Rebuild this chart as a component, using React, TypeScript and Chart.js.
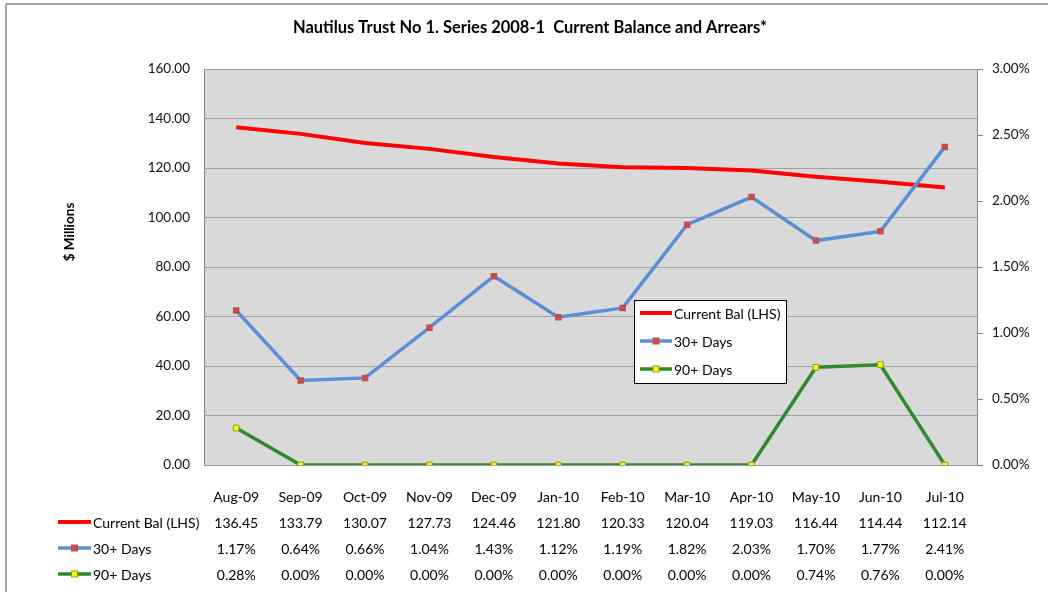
import React, { useEffect, useRef } from "react";
import { Chart, registerables } from "chart.js";

Chart.register(...registerables);

const categories = ["Aug-09", "Sep-09", "Oct-09", "Nov-09", "Dec-09", "Jan-10", "Feb-10", "Mar-10", "Apr-10", "May-10", "Jun-10", "Jul-10"];
const currentBal = [136.45, 133.79, 130.07, 127.73, 124.46, 121.8, 120.33, 120.04, 119.03, 116.44, 114.44, 112.14];
const days30 = [1.17, 0.64, 0.66, 1.04, 1.43, 1.12, 1.19, 1.82, 2.03, 1.7, 1.77, 2.41];
const days90 = [0.28, 0.0, 0.0, 0.0, 0.0, 0.0, 0.0, 0.0, 0.0, 0.74, 0.76, 0.0];
const seriesNames = ["Current Bal (LHS)", "30+ Days", "90+ Days"];
const title = "Nautilus Trust No 1. Series 2008-1  Current Balance and Arrears*";
const yTitle = "$ Millions";

const FONT = "Lato, 'Open Sans', sans-serif";
const RED = "#ff0000";
const BLUE = "#5a8fd6";
const GREEN = "#2f8a2f";
const MARK30 = "#c0504d";
const MARK90 = "#ffff00";
const MARK90B = "#8c9a1a";

function drawSample(ctx: CanvasRenderingContext2D, x0: number, x1: number, y: number, idx: number) {
  const colors = [RED, BLUE, GREEN];
  ctx.save();
  ctx.strokeStyle = colors[idx];
  ctx.lineWidth = idx === 0 ? 4 : 3.5;
  ctx.lineCap = "butt";
  ctx.beginPath();
  ctx.moveTo(x0, y);
  ctx.lineTo(x1, y);
  ctx.stroke();
  const cx = (x0 + x1) / 2;
  if (idx === 1) {
    ctx.fillStyle = MARK30;
    ctx.fillRect(cx - 3.5, y - 3.5, 7, 7);
  } else if (idx === 2) {
    ctx.fillStyle = MARK90;
    ctx.strokeStyle = MARK90B;
    ctx.lineWidth = 1;
    ctx.fillRect(cx - 3, y - 3, 6, 6);
    ctx.strokeRect(cx - 3, y - 3, 6, 6);
  }
  ctx.restore();
}

const decorPlugin = {
  id: "decor",
  beforeDraw(chart: any) {
    const { ctx, chartArea } = chart;
    ctx.save();
    ctx.fillStyle = "#ffffff";
    ctx.fillRect(0, 0, chart.width, chart.height);
    ctx.strokeStyle = "#a6a6a6";
    ctx.lineWidth = 2;
    ctx.strokeRect(6, 4, chart.width + 20, chart.height + 20);
    ctx.fillStyle = "#d9d9d9";
    ctx.fillRect(chartArea.left, chartArea.top, chartArea.right - chartArea.left, chartArea.bottom - chartArea.top);
    ctx.restore();
  },
  afterDraw(chart: any) {
    const { ctx } = chart;
    const xs = chart.scales.x;
    ctx.save();
    // title
    ctx.fillStyle = "#000";
    ctx.font = `bold 16.5px ${FONT}`;
    ctx.textAlign = "center";
    ctx.textBaseline = "middle";
    ctx.fillText(title, 530, 28);
    // y title
    ctx.save();
    ctx.translate(70, 232);
    ctx.rotate(-Math.PI / 2);
    ctx.font = `bold 13.5px ${FONT}`;
    ctx.fillText(yTitle, 0, 0);
    ctx.restore();

    // legend box
    const lx = 634, ly = 300, lw = 152, lh = 83;
    ctx.fillStyle = "#ffffff";
    ctx.fillRect(lx, ly, lw, lh);
    ctx.strokeStyle = "#000";
    ctx.lineWidth = 1;
    ctx.strokeRect(lx + 0.5, ly + 0.5, lw, lh);
    const legRows = [313, 341, 369];
    ctx.font = `14px ${FONT}`;
    ctx.textAlign = "left";
    ctx.textBaseline = "middle";
    seriesNames.forEach((n, i) => {
      drawSample(ctx, 640, 672, legRows[i], i);
      ctx.fillStyle = "#000";
      ctx.fillText(n, 674, legRows[i] + 1);
    });

    // data table
    const rows = [
      currentBal.map((v) => v.toFixed(2)),
      days30.map((v) => v.toFixed(2) + "%"),
      days90.map((v) => v.toFixed(2) + "%"),
    ];
    const rowY = [523, 549, 575];
    ctx.fillStyle = "#000";
    ctx.font = `14px ${FONT}`;
    ctx.textAlign = "center";
    categories.forEach((c, i) => {
      const x = xs.getPixelForValue(i);
      ctx.fillText(c, x, 497);
      rows.forEach((r, j) => ctx.fillText(r[i], x, rowY[j]));
    });
    seriesNames.forEach((n, j) => {
      drawSample(ctx, 58, 91, rowY[j] - 1, j);
      ctx.fillStyle = "#000";
      ctx.textAlign = "left";
      ctx.fillText(n, 93, rowY[j]);
    });
    ctx.restore();
  },
};

export default function App() {
  const ref = useRef<HTMLCanvasElement>(null);
  useEffect(() => {
    document.body.style.margin = "0";
    const chart = new Chart(ref.current as HTMLCanvasElement, {
      type: "line",
      data: {
        labels: categories,
        datasets: [
          {
            label: seriesNames[0],
            data: currentBal,
            yAxisID: "y",
            borderColor: RED,
            backgroundColor: RED,
            borderWidth: 4,
            pointRadius: 0,
            tension: 0,
            order: 3,
          },
          {
            label: seriesNames[1],
            data: days30,
            yAxisID: "y1",
            borderColor: BLUE,
            backgroundColor: MARK30,
            borderWidth: 3.5,
            pointStyle: "rect",
            pointRadius: 4.6,
            pointBackgroundColor: MARK30,
            pointBorderColor: MARK30,
            pointBorderWidth: 0,
            tension: 0,
            order: 1,
          },
          {
            label: seriesNames[2],
            data: days90,
            yAxisID: "y1",
            borderColor: GREEN,
            backgroundColor: MARK90,
            borderWidth: 3.5,
            pointStyle: "rect",
            pointRadius: 4,
            pointBackgroundColor: MARK90,
            pointBorderColor: MARK90B,
            pointBorderWidth: 1,
            tension: 0,
            order: 2,
          },
        ],
      },
      options: {
        animation: false,
        responsive: false,
        layout: { padding: { left: 0, right: 0, top: 69, bottom: 127 } },
        plugins: { legend: { display: false }, title: { display: false }, tooltip: { enabled: false } },
        scales: {
          x: {
            type: "category",
            display: false,
            offset: true,
          },
          y: {
            position: "left",
            min: 0,
            max: 160,
            ticks: {
              stepSize: 20,
              padding: 14,
              color: "#111",
              font: { family: FONT, size: 13.5 },
              callback: (v: any) => Number(v).toFixed(2),
            },
            grid: { color: "#a0a0a0", lineWidth: 1, drawTicks: false },
            border: { color: "#868686", width: 1 },
            afterFit: (s: any) => {
              s.width = 204;
            },
          },
          y1: {
            position: "right",
            min: 0,
            max: 3,
            ticks: {
              stepSize: 0.5,
              padding: 9,
              color: "#111",
              font: { family: FONT, size: 13.5 },
              callback: (v: any) => Number(v).toFixed(2) + "%",
            },
            grid: { drawOnChartArea: false, drawTicks: true, tickLength: 6, color: "#868686" },
            border: { color: "#868686", width: 1 },
            afterFit: (s: any) => {
              s.width = 71;
            },
          },
        },
      },
      plugins: [decorPlugin],
    });
    return () => chart.destroy();
  }, []);
  return (
    <div style={{ position: "fixed", left: 0, top: 0, width: 1048, height: 592 }}>
      <canvas ref={ref} width={1048} height={592} style={{ width: 1048, height: 592, display: "block" }} />
    </div>
  );
}
